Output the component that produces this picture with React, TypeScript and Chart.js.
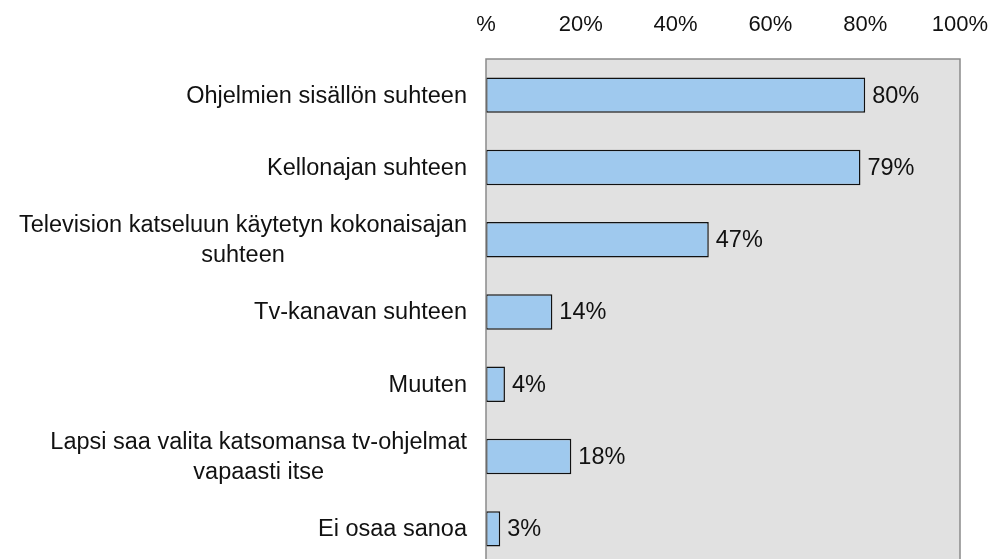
import React, { useEffect, useRef } from "react";
import { Chart, registerables } from "chart.js";

Chart.register(...registerables);

const categories: string[][] = [
  ["Ohjelmien sisällön suhteen"],
  ["Kellonajan suhteen"],
  ["Television katseluun käytetyn kokonaisajan", "suhteen"],
  ["Tv-kanavan suhteen"],
  ["Muuten"],
  ["Lapsi saa valita katsomansa tv-ohjelmat", "vapaasti itse"],
  ["Ei osaa sanoa"],
];
const values = [80, 79, 47, 14, 4, 18, 3];
const xTickValues = [0, 20, 40, 60, 80, 100];
const xTickLabels = ["%", "20%", "40%", "60%", "80%", "100%"];

const FONT = "'Liberation Sans', Arial, Helvetica, sans-serif";
const TEXT = "#111111";

const customPlugin = {
  id: "customDraw",
  beforeDraw(chart: any) {
    const { ctx, chartArea: a } = chart;
    ctx.save();
    ctx.fillStyle = "#e1e1e1";
    ctx.fillRect(a.left, a.top, a.right - a.left, a.bottom - a.top);
    ctx.restore();
  },
  afterDatasetsDraw(chart: any) {
    const { ctx, chartArea: a } = chart;
    ctx.save();
    ctx.strokeStyle = "#8a8a8a";
    ctx.lineWidth = 1.5;
    ctx.strokeRect(a.left, a.top, a.right - a.left, a.bottom - a.top);

    ctx.font = `23.5px ${FONT}`;
    ctx.fillStyle = TEXT;
    ctx.textBaseline = "middle";
    ctx.textAlign = "left";
    const meta = chart.getDatasetMeta(0);
    meta.data.forEach((el: any, i: number) => {
      ctx.fillText(`${values[i]}%`, el.x + 7, el.y + 1);
    });

    const yScale = chart.scales.y;
    categories.forEach((lines, i) => {
      const cy = yScale.getPixelForValue(i);
      const maxW = Math.max(...lines.map((l) => ctx.measureText(l).width));
      const cx = a.left - 19 - maxW / 2;
      ctx.textAlign = "center";
      lines.forEach((l, j) => {
        ctx.fillText(l, cx, cy + 1 + (j - (lines.length - 1) / 2) * 30);
      });
    });
    ctx.restore();
  },
};

export default function App() {
  const ref = useRef<HTMLCanvasElement | null>(null);

  useEffect(() => {
    document.body.style.overflow = "hidden";
    const canvas = ref.current;
    if (!canvas) return;
    const chart = new Chart(canvas, {
      type: "bar",
      data: {
        labels: categories.map((c) => c.join(" ")),
        datasets: [
          {
            data: values,
            backgroundColor: "#9fc9ee",
            borderColor: "#111111",
            borderWidth: 1.5,
            borderSkipped: false,
            barPercentage: 0.49,
            categoryPercentage: 1,
          },
        ],
      },
      options: {
        indexAxis: "y",
        animation: false,
        responsive: true,
        maintainAspectRatio: false,
        layout: { padding: { left: 0, right: 37, top: 0, bottom: 15 } },
        plugins: {
          legend: { display: false },
          tooltip: { enabled: false },
        },
        scales: {
          x: {
            position: "top",
            min: 0,
            max: 100,
            afterBuildTicks: (scale: any) => {
              scale.ticks = xTickValues.map((v) => ({ value: v }));
            },
            afterFit: (scale: any) => {
              scale.height = 59;
              scale.paddingLeft = 0;
              scale.paddingRight = 0;
            },
            grid: { display: false, drawTicks: false },
            border: { display: false },
            ticks: {
              padding: 21,
              color: TEXT,
              font: { family: FONT, size: 22 },
              maxRotation: 0,
              autoSkip: false,
              callback: (v: any) => xTickLabels[xTickValues.indexOf(Number(v))],
            },
          },
          y: {
            afterFit: (scale: any) => {
              scale.width = 486;
              scale.paddingTop = 0;
              scale.paddingBottom = 0;
            },
            grid: { display: false, drawTicks: false },
            border: { display: false },
            ticks: { display: false },
          },
        },
      },
      plugins: [customPlugin],
    } as any);
    return () => chart.destroy();
  }, []);

  return (
    <div style={{ position: "fixed", left: 0, top: 0, width: 997, height: 580 }}>
      <canvas ref={ref} />
    </div>
  );
}
